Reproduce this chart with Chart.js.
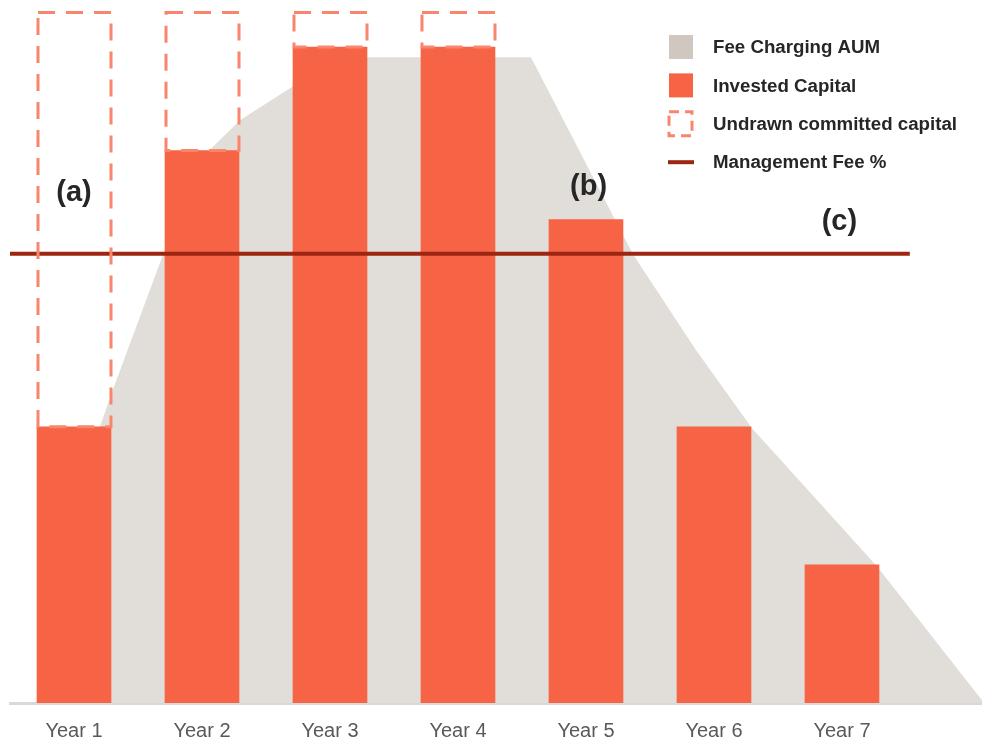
<!DOCTYPE html>
<html>
<head>
<meta charset="utf-8">
<script src="https://cdn.jsdelivr.net/npm/chart.js@4.4.1/dist/chart.umd.min.js"></script>
<style>
  html, body { margin: 0; padding: 0; background: #ffffff; }
  #wrap { width: 982px; height: 739px; position: relative; }
</style>
</head>
<body>
<div id="wrap"><canvas id="c" width="982" height="739"></canvas></div>
<script>
// ---- data ----
const years = ['Year 1', 'Year 2', 'Year 3', 'Year 4', 'Year 5', 'Year 6', 'Year 7'];
const investedCapital = [40, 80, 95, 95, 70, 40, 20];
const committedCapital = [100, 100, 100, 100, null, null, null];

// outline of the fee-charging AUM shape (x in year index units)
const aumX = [-0.2, 0.203, 0.289, 0.695, 1.078, 1.297, 1.711, 2.078, 3.570, 4.367, 4.859, 5.297, 6.273, 7.094];
const aumY = [0, 40.0, 44.6, 64.9, 80.4, 84.4, 89.3, 93.5, 93.5, 65.0, 51.1, 39.8, 19.8, 0.4];

// management fee rate (%) held flat across the fund's life
const managementFee = 2.0;
const feeSpanX = [-0.5, 6.53];

// ---- styles ----
const C_BAR = '#f66345';
const C_UNDRAWN = '#f7866c';
const C_AUM = '#e1ddd8';
const C_AUM_KEY = '#d0c8c0';
const C_FEE = '#9c2612';
const C_TEXT = '#262626';

// dashed outlines for the undrawn commitment bars
const dashedOutline = {
  id: 'dashedOutline',
  afterDatasetsDraw(chart) {
    const ctx = chart.ctx;
    chart.data.datasets.forEach((ds, di) => {
      if (!ds.dashedOutline) return;
      const meta = chart.getDatasetMeta(di);
      meta.data.forEach(bar => {
        const p = bar.getProps(['x', 'y', 'base', 'width'], true);
        ctx.save();
        ctx.strokeStyle = C_UNDRAWN;
        ctx.lineWidth = 3;
        ctx.setLineDash([17, 11]);
        ctx.strokeRect(p.x - p.width / 2 + 1, p.y, p.width - 1, p.base - p.y);
        ctx.restore();
      });
    });
  }
};

// (a) (b) (c) callouts, placed in data coordinates
const callouts = [
  { text: '(a)', x: 0, y: 73.8 },
  { text: '(b)', x: 4.02, y: 74.7 },
  { text: '(c)', x: 5.98, y: 69.6 }
];
const calloutPlugin = {
  id: 'callouts',
  afterDatasetsDraw(chart) {
    const ctx = chart.ctx;
    const xs = chart.scales.x, ys = chart.scales.y;
    ctx.save();
    ctx.font = 'bold 29px "Liberation Sans", Arial, sans-serif';
    ctx.fillStyle = C_TEXT;
    ctx.textAlign = 'center';
    ctx.textBaseline = 'middle';
    callouts.forEach(c => ctx.fillText(c.text, xs.getPixelForValue(c.x), ys.getPixelForValue(c.y)));
    ctx.restore();
  }
};

// legend drawn inside the plot, top right
const legendOrder = ['Fee Charging AUM', 'Invested Capital', 'Undrawn committed capital', 'Management Fee %'];
const keyLegend = {
  id: 'keyLegend',
  afterDraw(chart) {
    const ctx = chart.ctx;
    const left = 669, textLeft = 713, top = 47, step = 38.4, sw = 24;
    ctx.save();
    ctx.font = 'bold 18.7px "Liberation Sans", Arial, sans-serif';
    ctx.textBaseline = 'middle';
    ctx.textAlign = 'left';
    legendOrder.forEach((label, i) => {
      const ds = chart.data.datasets.find(d => d.label === label);
      const cy = top + i * step;
      if (ds.dashedOutline) {
        ctx.strokeStyle = C_UNDRAWN;
        ctx.lineWidth = 3;
        ctx.setLineDash([10, 6]);
        ctx.strokeRect(left, cy - sw / 2, sw - 1, sw);
        ctx.setLineDash([]);
      } else if (ds.type === 'line' && !ds.fill) {
        ctx.fillStyle = ds.borderColor;
        ctx.fillRect(left - 1, cy - 2, sw + 2, 4);
      } else {
        ctx.fillStyle = ds.fill ? C_AUM_KEY : ds.backgroundColor;
        ctx.fillRect(left, cy - sw / 2, sw, sw);
      }
      ctx.fillStyle = C_TEXT;
      ctx.fillText(label, textLeft, cy + 1);
    });
    ctx.restore();
  }
};

const undrawn = years
  .map((_, i) => ({ x: i, y: [investedCapital[i], committedCapital[i]] }))
  .filter((d, i) => committedCapital[i] != null);

new Chart(document.getElementById('c'), {
  type: 'bar',
  data: {
    datasets: [
      {
        type: 'line',
        label: 'Management Fee %',
        data: feeSpanX.map(x => ({ x, y: managementFee })),
        yAxisID: 'yFee',
        borderColor: C_FEE,
        borderWidth: 4,
        pointRadius: 0,
        fill: false,
        order: 0
      },
      {
        label: 'Invested Capital',
        data: investedCapital.map((v, i) => ({ x: i, y: v })),
        backgroundColor: C_BAR,
        barThickness: 74,
        grouped: false,
        order: 1
      },
      {
        label: 'Undrawn committed capital',
        data: undrawn,
        backgroundColor: 'rgba(0,0,0,0)',
        borderWidth: 0,
        barThickness: 74,
        grouped: false,
        dashedOutline: true,
        order: 2
      },
      {
        type: 'line',
        label: 'Fee Charging AUM',
        data: aumX.map((x, i) => ({ x, y: aumY[i] })),
        backgroundColor: C_AUM,
        borderWidth: 0,
        borderColor: 'rgba(0,0,0,0)',
        pointRadius: 0,
        tension: 0,
        fill: 'origin',
        order: 3
      }
    ]
  },
  options: {
    responsive: false,
    animation: false,
    devicePixelRatio: 1,
    layout: { padding: { left: 10, right: 0, top: 0, bottom: 0 } },
    plugins: {
      legend: { display: false },
      tooltip: { enabled: false }
    },
    scales: {
      x: {
        type: 'linear',
        min: -0.5,
        max: 7.094,
        offset: false,
        grid: { display: false, drawTicks: false },
        border: { display: true, color: '#d9d9d9', width: 3 },
        afterBuildTicks: s => { s.ticks = years.map((_, i) => ({ value: i })); },
        afterFit: s => { s.height = 36; },
        ticks: {
          padding: 16,
          color: '#595959',
          font: { family: '"Liberation Sans", Arial, sans-serif', size: 20 },
          maxRotation: 0,
          autoSkip: false,
          callback: v => years[v] ?? ''
        }
      },
      y: {
        display: false,
        min: 0,
        max: 101.8
      },
      yFee: {
        display: false,
        min: 0,
        max: 3.13
      }
    }
  },
  plugins: [dashedOutline, calloutPlugin, keyLegend]
});
</script>
</body>
</html>
